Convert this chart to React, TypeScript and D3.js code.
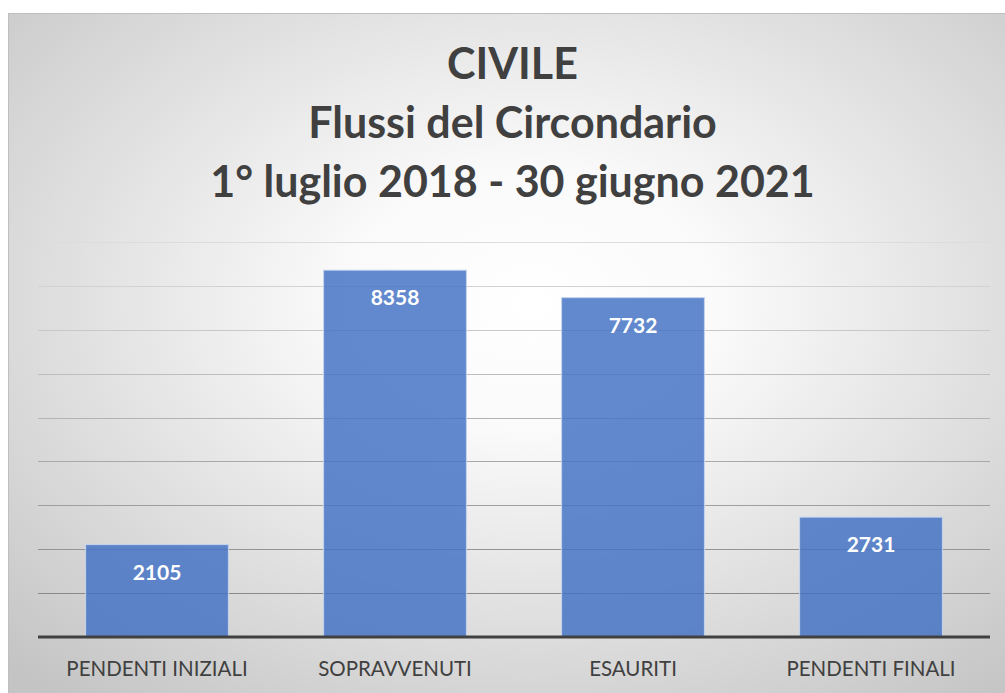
import React from "react";
import * as d3 from "d3";

const categories = ["PENDENTI INIZIALI", "SOPRAVVENUTI", "ESAURITI", "PENDENTI FINALI"];
const values = [2105, 8358, 7732, 2731];
const titleLines = ["CIVILE", "Flussi del Circondario", "1° luglio 2018 - 30 giugno 2021"];
const gridTicks = [1000, 2000, 3000, 4000, 5000, 6000, 7000, 8000, 9000];

const W = 1005;
const H = 693;

export default function App() {
  const x = d3.scaleBand<string>().domain(categories).range([38, 990]).paddingInner(0.4).paddingOuter(0.2);
  const y = d3.scaleLinear().domain([0, 9000]).range([637, 242]);
  const gridColor = d3.scaleLinear<string>().domain([9000, 1000]).range(["#dcdcdc", "#8a8a8a"]);
  const font = "Lato, 'Open Sans', sans-serif";
  return (
    <svg width={W} height={H} style={{ position: "absolute", left: 0, top: 0, display: "block" }}>
      <defs>
        <radialGradient id="bg" cx="52%" cy="40%" r="75%" fx="52%" fy="42%">
          <stop offset="0" stopColor="#ffffff" />
          <stop offset="0.25" stopColor="#fafafa" />
          <stop offset="1" stopColor="#c4c4c4" />
        </radialGradient>
      </defs>
      <rect x={0} y={0} width={W} height={H} fill="#ffffff" />
      <rect x={8.5} y={13.5} width={W} height={H} fill="url(#bg)" stroke="#bfbfbf" strokeWidth={1} />
      {titleLines.map((t, i) => (
        <text key={i} x={512.5} y={78.5 + i * 59.2} textAnchor="middle" fontFamily={font} fontWeight={700} fontSize={43} fill="#404040">
          {t}
        </text>
      ))}
      {gridTicks.map((v) => (
        <line key={v} x1={38} x2={990} y1={Math.round(y(v)) + 0.5} y2={Math.round(y(v)) + 0.5} stroke={gridColor(v)} strokeWidth={1.2} />
      ))}
      {categories.map((c, i) => (
        <g key={c}>
          <rect
            x={x(c)!}
            y={y(values[i])}
            width={x.bandwidth()}
            height={y(0) - y(values[i])}
            fill="#4472c4"
            fillOpacity={0.84}
            stroke="#c5d4ee"
            strokeWidth={1}
          />
          <text x={x(c)! + x.bandwidth() / 2} y={y(values[i]) + 35} textAnchor="middle" fontFamily={font} fontWeight={700} fontSize={21} fill="#ffffff">
            {values[i]}
          </text>
          <text x={x(c)! + x.bandwidth() / 2} y={675.7} textAnchor="middle" fontFamily={font} fontSize={20.5} fill="#404040">
            {c}
          </text>
        </g>
      ))}
      <line x1={38} x2={990} y1={637} y2={637} stroke="#404040" strokeWidth={3} />
    </svg>
  );
}
